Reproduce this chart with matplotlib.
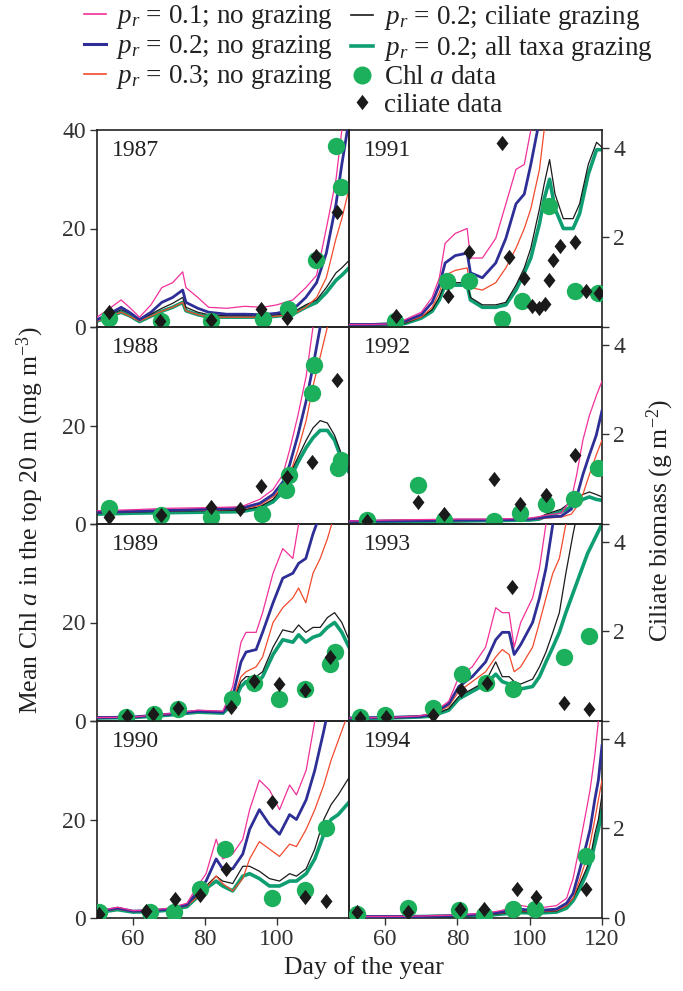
"""Chl a model runs vs. data, 1987-1994: four grazing scenarios + ciliate biomass."""
import matplotlib
matplotlib.use("Agg")
import matplotlib.pyplot as plt  # noqa: E402
from matplotlib.lines import Line2D  # noqa: E402

plt.rcParams.update({
    "font.family": ["Liberation Serif", "DejaVu Serif"],
    "mathtext.fontset": "custom",
    "mathtext.rm": "Liberation Serif",
    "mathtext.it": "Liberation Serif:italic",
    "font.size": 17,
    "axes.linewidth": 1.2,
    "axes.edgecolor": "#222222",
    "xtick.color": "#333333",
    "ytick.color": "#333333",
})

# colours (pr=0.1, 0.2, 0.3 no grazing; ciliate grazing; all taxa grazing)
PINK, BLUE, RED, BLACK, GREEN = "#f2309a", "#2e2f96", "#f24a2c", "#1a1a1a", "#0f9e72"
DOT = "#1cb05c"

# ---- 1987 --------------------------------------------------------------
D87 = [50, 53, 56.7, 59, 61.8, 65, 68, 71, 73.8, 74.7, 78, 81, 86, 91, 96, 100,
       104.4, 108, 111, 113.7, 116.4, 118, 120]
P1_87 = [2.0, 3.5, 5.5, 4.0, 2.0, 4.5, 8.0, 9.0, 11.2, 8.0, 6.0, 4.0, 3.8, 4.2, 4.0,
         4.5, 5.5, 8.0, 10.5, 20, 30, 40, 48]
P2_87 = [1.5, 2.5, 4.0, 3.0, 1.5, 3.0, 5.0, 6.0, 7.5, 5.0, 3.8, 3.0, 2.6, 2.6, 2.5,
         2.8, 3.5, 6.0, 9.0, 15, 25, 33, 42]
P3_87 = [1.2, 2.0, 3.0, 2.2, 1.2, 2.2, 3.2, 4.0, 5.0, 3.3, 2.5, 2.0, 2.0, 2.0, 2.0,
         2.2, 2.6, 4.0, 6.0, 10, 18, 22, 28]
CG_87 = [1.5, 2.3, 3.5, 2.8, 1.5, 2.6, 3.8, 4.8, 6.0, 4.0, 3.0, 2.5, 2.3, 2.3, 2.2,
         2.5, 3.0, 4.5, 5.5, 8.0, 11, 12, 13.5]
AG_87 = [1.2, 2.0, 3.0, 2.3, 1.1, 2.2, 3.2, 4.0, 5.0, 3.3, 2.5, 2.0, 2.0, 2.0, 2.0,
         2.2, 2.6, 4.0, 5.0, 7.0, 9.5, 10.5, 12]
CHL_D87 = [53.4, 67.8, 81.7, 96.0, 103.0, 110.7, 116.4, 117.7]
CHL_87 = [1.9, 1.2, 1.2, 1.7, 3.6, 13.6, 36.7, 28.4]
CIL_D87 = [53.4, 67.5, 81.7, 95.6, 102.7, 110.7, 116.6]
CIL_87 = [0.34, 0.13, 0.15, 0.41, 0.21, 1.58, 2.56]

# ---- 1988 --------------------------------------------------------------
D88 = [50, 60, 70, 80, 90, 95.2, 98.9, 101.6, 103.5, 105.8, 108.1, 110, 112, 114,
       116, 118, 120]
P1_88 = [2.7, 2.9, 3.2, 3.3, 3.5, 5, 7, 10, 15, 22, 30, 40, 50, 55, 60, 60, 60]
P2_88 = [2.4, 2.6, 2.8, 3.0, 3.2, 4.2, 6, 8.5, 12, 18, 25, 32, 40, 48, 55, 60, 60]
P3_88 = [2.3, 2.5, 2.7, 2.8, 3.0, 3.8, 5.5, 7.5, 10, 15, 21, 28, 34, 40, 46, 50, 55]
CG_88 = [2.2, 2.4, 2.6, 2.7, 2.8, 3.5, 5, 7.5, 10, 13.5, 17, 19.5, 21, 20.5, 18, 14,
         11.5]
AG_88 = [2.0, 2.2, 2.3, 2.4, 2.5, 3.2, 4.5, 6.5, 9, 12.5, 15.5, 17.5, 19, 19, 17, 13,
         10.5]
CHL_D88 = [53.4, 67.8, 81.7, 95.9, 102.5, 103.4, 109.8, 110.4, 117.0, 117.9]
CHL_88 = [3.3, 1.75, 1.4, 2.0, 7.0, 10.0, 26.7, 32.2, 11.3, 12.9]
CIL_D88 = [53.4, 67.8, 81.7, 89.6, 95.6, 102.7, 109.8, 116.8]
CIL_88 = [0.15, 0.21, 0.38, 0.34, 0.84, 1.04, 1.39, 3.21]

# ---- 1989 --------------------------------------------------------------
D89 = [50, 60, 70, 78, 85, 87.7, 90, 91.4, 94.2, 96, 98.9, 101.6, 104.4, 106, 108,
       110, 112, 114, 116, 118, 120]
P1_89 = [0.7, 0.8, 1.5, 2.2, 2.0, 7, 16, 18, 18, 22, 30, 35, 33, 40, 45, 50, 55, 60,
         60, 60, 60]
P2_89 = [0.7, 0.8, 1.4, 2.0, 1.8, 5, 12, 14, 14.5, 18, 24, 29, 30, 32, 33, 38, 42, 48,
         52, 55, 58]
P3_89 = [0.7, 0.8, 1.3, 2.0, 1.8, 4, 9, 10, 11, 13, 20, 23, 25, 27, 24, 30, 33, 37,
         42, 46, 50]
CG_89 = [0.7, 0.8, 1.3, 2.0, 1.8, 4, 8, 9, 9, 10, 15, 18.5, 18, 19.5, 18, 19, 19, 21,
         22, 20, 16.5]
AG_89 = [0.6, 0.7, 1.2, 1.8, 1.6, 3.5, 7, 8, 7.5, 9, 13.5, 16.5, 16, 17.5, 16, 17,
         17.5, 19, 20, 18, 15]
CHL_D89 = [58.1, 65.7, 72.4, 87.6, 93.7, 100.5, 107.7, 114.8, 116.0]
CHL_89 = [0.8, 1.4, 2.5, 4.5, 7.8, 4.4, 6.4, 11.5, 14.0]
CIL_D89 = [58.3, 65.5, 72.6, 87.3, 93.7, 100.5, 107.7, 114.8]
CIL_89 = [0.11, 0.16, 0.28, 0.32, 0.90, 0.83, 0.69, 1.44]

# ---- 1990 --------------------------------------------------------------
D90 = [50, 55.7, 60, 65, 70, 75, 77.5, 80.3, 83.1, 84.9, 87.7, 90.5, 92.4, 95.1,
       97.9, 100.7, 103.5, 105.4, 108.1, 110.5, 113, 115, 117, 120]
P1_90 = [1.3, 2.2, 1.5, 1.6, 2.0, 3.0, 6, 9, 16, 12, 13, 16, 22, 28, 26, 22, 27, 25,
         30, 40, 48, 55, 60, 60]
P2_90 = [1.3, 2.0, 1.4, 1.5, 1.8, 2.7, 5, 7.5, 12, 10, 10, 13, 18, 22, 19, 17, 21, 20,
         24, 30, 38, 45, 50, 55]
P3_90 = [1.2, 1.8, 1.3, 1.4, 1.7, 2.5, 4, 6, 8.5, 7, 5.5, 8, 12, 15.5, 14, 12.5, 15,
         14.5, 18, 22, 27, 32, 36, 42]
CG_90 = [1.3, 1.9, 1.4, 1.5, 1.8, 2.5, 4.5, 6.5, 8.5, 7.5, 7, 10.5, 10.5, 9.5, 8, 7.5,
         9, 8.5, 10, 14, 20, 23, 25, 28.5]
AG_90 = [1.1, 1.7, 1.2, 1.3, 1.6, 2.3, 4, 6, 7.5, 6.5, 5.5, 8.5, 9, 8, 6.5, 6.5, 7.5,
         7.5, 9, 12, 17, 20, 21, 23.5]
CHL_D90 = [50.6, 64.6, 71.4, 78.5, 85.5, 98.6, 107.7, 113.7]
CHL_90 = [1.2, 1.2, 1.3, 5.9, 14.1, 4.0, 5.7, 18.2]
CIL_D90 = [50.6, 63.5, 71.6, 78.7, 85.7, 98.6, 107.7, 113.7]
CIL_90 = [0.09, 0.16, 0.42, 0.52, 1.10, 2.59, 0.46, 0.37]

# ---- 1991 --------------------------------------------------------------
D91 = [50, 55, 60, 63, 65.5, 70, 73, 75, 76.6, 79.4, 82.7, 83.6, 86.9, 90.6, 93.4,
       96.2, 98.5, 100.3, 102.7, 104, 105.5, 107, 109.3, 112, 113.8, 116.2, 118.5, 120]
P1_91 = [0.5, 0.5, 0.6, 0.8, 1.5, 3, 6, 10, 17, 19, 20, 14, 14, 18, 25, 32, 33, 40,
         50, 55, 60, 60, 60, 60, 60, 60, 60, 60]
P2_91 = [0.5, 0.5, 0.6, 0.8, 1.2, 2.5, 5, 8.5, 13, 14.5, 15, 11, 10, 13, 18, 25, 27,
         33, 42, 50, 55, 60, 60, 60, 60, 60, 60, 60]
P3_91 = [0.5, 0.5, 0.5, 0.7, 1.0, 2, 4, 7, 10.5, 11.5, 12, 8, 7.5, 9, 12, 16, 20, 24,
         32, 40, 48, 55, 60, 60, 60, 60, 60, 60]
CG_91 = [0.5, 0.5, 0.5, 0.7, 0.8, 2, 3.5, 6, 9, 9, 9, 6, 4.5, 4.5, 5, 8.5, 12, 16, 24,
         29, 34, 27, 22, 22, 25, 33, 37.5, 36.5]
AG_91 = [0.4, 0.4, 0.5, 0.6, 0.7, 1.8, 3.2, 5.5, 8.5, 8.5, 8.5, 5.5, 4.0, 4.0, 4.5,
         7.5, 11, 14, 21, 26, 30, 24, 20, 20, 23, 31, 36, 36]
CHL_D91 = [62.7, 77.1, 83.1, 92.2, 98.0, 105.3, 112.4, 118.9]
CHL_91 = [1.2, 9.4, 9.4, 1.7, 5.3, 24.5, 7.3, 7.0]
CIL_D91 = [63.0, 77.3, 83.2, 92.3, 94.3, 98.3, 100.6, 102.5, 104.1, 105.3, 106.4,
           108.3, 112.4, 115.5, 119.3]
CIL_91 = [0.24, 0.69, 1.67, 4.12, 1.56, 1.10, 0.48, 0.43, 0.52, 1.06, 1.50, 1.81,
          1.89, 0.80, 0.76]

# ---- 1992 --------------------------------------------------------------
D92 = [50, 60, 70, 80, 90, 100, 102.6, 104.5, 108.7, 111.5, 113, 114.7, 116.5, 118.4,
       120]
P1_92 = [0.6, 0.8, 0.9, 1.0, 1.0, 1.2, 1.5, 1.8, 2.2, 5, 10, 17, 22, 26, 29]
P2_92 = [0.5, 0.6, 0.7, 0.8, 0.8, 1.0, 1.2, 1.4, 1.6, 3, 5.5, 10, 14, 18, 23]
P3_92 = [0.5, 0.6, 0.7, 0.7, 0.8, 0.9, 1.0, 1.2, 1.4, 2, 3.5, 6, 10, 14, 17]
CG_92 = [0.5, 0.6, 0.6, 0.7, 0.8, 1.0, 1.3, 2.0, 3.0, 4.5, 5.2, 6.0, 6.5, 6.0, 5.5]
AG_92 = [0.4, 0.5, 0.5, 0.6, 0.7, 0.8, 1.0, 1.6, 2.5, 3.5, 4.2, 5.0, 5.5, 5.0, 4.8]
CHL_D92 = [55.1, 69.0, 76.2, 90.1, 97.3, 104.5, 112.2, 118.9]
CHL_92 = [0.9, 7.9, 0.9, 0.7, 2.2, 4.1, 5.1, 11.4]
CIL_D92 = [55.1, 69.0, 76.2, 90.1, 97.3, 104.5, 112.4]
CIL_92 = [0.07, 0.50, 0.22, 1.00, 0.45, 0.65, 1.55]

# ---- 1993 --------------------------------------------------------------
D93 = [50, 60, 69.2, 72.9, 77.6, 80.4, 84.1, 87.8, 90.6, 92.4, 94.3, 95.7, 97.5,
       100.8, 102.7, 104.5, 106.4, 108.2, 110, 112, 114, 116, 118, 120]
P1_93 = [0.6, 0.7, 1.0, 1.5, 4, 9, 11, 15, 23, 22, 22, 15, 20, 25, 31, 40, 48, 55, 60,
         60, 60, 60, 60, 60]
P2_93 = [0.6, 0.7, 0.9, 1.3, 3.5, 7, 9, 12, 16.5, 18, 18, 13.5, 15.5, 20, 25, 31, 40,
         48, 55, 60, 60, 60, 60, 60]
P3_93 = [0.6, 0.6, 0.9, 1.2, 3, 6, 8, 10, 13, 14.5, 13.5, 10, 11, 15, 20, 25, 30, 33,
         40, 48, 55, 60, 60, 60]
CG_93 = [0.5, 0.6, 0.8, 1.1, 2.5, 5, 6.5, 8, 12, 9, 9, 8, 7.5, 8.5, 11, 14, 18, 22,
         30, 38, 45, 50, 55, 60]
AG_93 = [0.5, 0.6, 0.8, 1.0, 2.2, 4.5, 6, 7.5, 9.5, 8, 7.5, 7, 6.5, 7, 9, 12, 15, 18,
         22, 26, 30, 34, 37, 40]
CHL_D93 = [53.0, 59.9, 73.2, 81.3, 87.8, 95.4, 109.4, 116.4]
CHL_93 = [0.8, 1.2, 2.7, 9.5, 7.8, 6.4, 12.9, 17.3]
CIL_D93 = [53.0, 60.2, 73.2, 81.1, 88.3, 95.2, 109.4, 116.4]
CIL_93 = [0.07, 0.09, 0.13, 0.70, 0.85, 3.00, 0.41, 0.26]

# ---- 1994 --------------------------------------------------------------
D94 = [50, 60, 70, 80, 88, 92, 97, 102, 107.4, 110.2, 112, 113.9, 115.7, 116.7, 118,
       119, 120]
P1_94 = [0.3, 0.3, 0.4, 0.6, 1.0, 1.5, 2.6, 2.0, 2.5, 4, 8, 15, 22, 26, 33, 40, 46]
P2_94 = [0.3, 0.3, 0.3, 0.5, 0.8, 1.2, 1.8, 1.5, 1.8, 3, 5, 10, 15, 18, 24, 28, 35]
P3_94 = [0.3, 0.3, 0.3, 0.5, 0.7, 1.0, 1.5, 1.3, 1.5, 2.5, 4, 8, 12, 15, 20, 24, 28]
CG_94 = [0.3, 0.3, 0.3, 0.4, 0.6, 0.9, 1.3, 1.2, 1.4, 2.5, 4, 7, 10, 12, 17, 20, 25]
AG_94 = [0.2, 0.2, 0.3, 0.4, 0.5, 0.8, 1.1, 1.0, 1.2, 2, 3.5, 6, 9, 11, 15, 18, 22]
CHL_D94 = [52.3, 66.2, 80.4, 87.3, 95.4, 101.4, 115.6]
CHL_94 = [0.9, 2.0, 1.7, 0.7, 1.8, 1.8, 12.5]
CIL_D94 = [52.3, 66.2, 80.6, 87.3, 96.6, 101.7, 115.6]
CIL_94 = [0.13, 0.13, 0.21, 0.19, 0.64, 0.48, 0.64]

# panel layout: left column 1987-1990, right column 1991-1994
PANELS = [
    (1987, D87, P1_87, P2_87, P3_87, CG_87, AG_87, CHL_D87, CHL_87, CIL_D87, CIL_87),
    (1988, D88, P1_88, P2_88, P3_88, CG_88, AG_88, CHL_D88, CHL_88, CIL_D88, CIL_88),
    (1989, D89, P1_89, P2_89, P3_89, CG_89, AG_89, CHL_D89, CHL_89, CIL_D89, CIL_89),
    (1990, D90, P1_90, P2_90, P3_90, CG_90, AG_90, CHL_D90, CHL_90, CIL_D90, CIL_90),
    (1991, D91, P1_91, P2_91, P3_91, CG_91, AG_91, CHL_D91, CHL_91, CIL_D91, CIL_91),
    (1992, D92, P1_92, P2_92, P3_92, CG_92, AG_92, CHL_D92, CHL_92, CIL_D92, CIL_92),
    (1993, D93, P1_93, P2_93, P3_93, CG_93, AG_93, CHL_D93, CHL_93, CIL_D93, CIL_93),
    (1994, D94, P1_94, P2_94, P3_94, CG_94, AG_94, CHL_D94, CHL_94, CIL_D94, CIL_94),
]

DIAMOND = [(0, 1), (0.78, 0), (0, -1), (-0.78, 0), (0, 1)]

W, H = 683, 991
fig = plt.figure(figsize=(W / 100, H / 100), dpi=100)
X0 = [97 / W, 349 / W]
PW = 252 / W
TOP, PH = 130, 197

for k, (yr, d, p1, p2, p3, cg, ag, cd, chl, qd, cil) in enumerate(PANELS):
    col, row = divmod(k, 4)
    y_bot = 1 - (TOP + PH * (row + 1)) / H
    ax = fig.add_axes([X0[col], y_bot, PW + (1 / W if col else 0), PH / H])
    ax2 = ax.twinx()
    ax.set_zorder(ax2.get_zorder() + 1)
    ax.patch.set_visible(False)

    ax.plot(d, ag, color=GREEN, lw=2.6, zorder=2)
    ax.plot(d, cg, color=BLACK, lw=0.9, zorder=3)
    ax.plot(d, p3, color=RED, lw=0.9, zorder=4)
    ax.plot(d, p2, color=BLUE, lw=2.0, zorder=5)
    ax.plot(d, p1, color=PINK, lw=0.9, zorder=6)
    ax.plot(cd, chl, "o", color=DOT, ms=12.5, mec="none", zorder=7)
    ax.plot(qd, [v * 40 / 4.4 for v in cil], ls="none", marker=DIAMOND,
            color=BLACK, ms=11, mec="none", zorder=8)

    ax.set_xlim(50, 120)
    ax.set_ylim(0, 40)
    ax2.set_ylim(0, 4.4)
    ax.text(0.06, 0.895, str(yr), transform=ax.transAxes, ha="left", va="center",
            fontsize=17, color="#222222", zorder=9)

    ax.tick_params(direction="out", length=5, width=1.0, labelsize=17, pad=3)
    ax2.tick_params(direction="out", length=5, width=1.0, labelsize=17, pad=3)

    if col == 0:
        ax.set_yticks([0, 20, 40])
        ax.set_yticklabels(["0", "20", "40" if row == 0 else ""])
        ax2.set_yticks([])
        ax.set_xticks([60, 80, 100])
    else:
        ax.set_yticks([])
        ax2.set_yticks([0, 2, 4])
        ax2.set_yticklabels(["0" if row == 3 else "", "2", "4"])
        ax.set_xticks([60, 80, 100, 120])
    if row < 3:
        ax.set_xticks([])
    for sp in ax2.spines.values():
        sp.set_visible(False)

fig.text(30 / W, 1 - 520 / H, r"Mean Chl $a$ in the top 20 m (mg m$^{-3}$)",
         rotation=90, ha="center", va="center", fontsize=18.5, color="#222222")
fig.text(660 / W, 1 - 520 / H, r"Ciliate biomass (g m$^{-2}$)",
         rotation=90, ha="center", va="center", fontsize=18.5, color="#222222")
fig.text(364 / W, 1 - 968 / H, "Day of the year", ha="center", va="center",
         fontsize=18.5, color="#222222")

# legend: two columns of entries above the panels
h1 = [Line2D([], [], color=PINK, lw=1.2), Line2D([], [], color=BLUE, lw=2.2),
      Line2D([], [], color=RED, lw=1.2)]
l1 = [r"$p_r$ = 0.1; no grazing", r"$p_r$ = 0.2; no grazing",
      r"$p_r$ = 0.3; no grazing"]
h2 = [Line2D([], [], color=BLACK, lw=1.2), Line2D([], [], color=GREEN, lw=2.6),
      Line2D([], [], ls="none", marker="o", color=DOT, ms=13, mec="none"),
      Line2D([], [], ls="none", marker=DIAMOND, color=BLACK, ms=11, mec="none")]
l2 = [r"$p_r$ = 0.2; ciliate grazing", r"$p_r$ = 0.2; all taxa grazing",
      r"Chl $a$ data", "ciliate data"]
kw = dict(frameon=False, fontsize=19.5, handlelength=0.8, handletextpad=0.4,
          labelspacing=0.08, borderpad=0, borderaxespad=0, loc="upper left",
          labelcolor="#222222")
fig.legend(h1, l1, bbox_to_anchor=(84 / W, 1 - 3 / H), **kw)
fig.legend(h2, l2, bbox_to_anchor=(351 / W, 1 - 3 / H), **kw)

fig.savefig("out.png", dpi=100)
